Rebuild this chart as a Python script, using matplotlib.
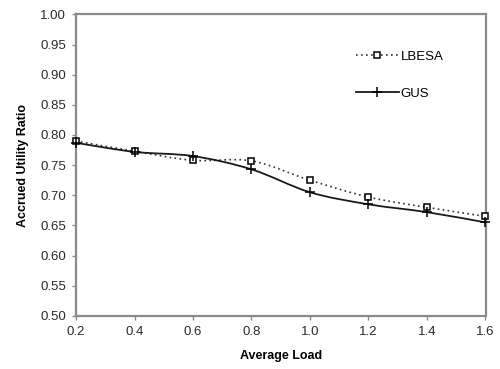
import numpy as np
import matplotlib.pyplot as plt
from matplotlib.path import Path
from matplotlib.patches import PathPatch
from matplotlib.lines import Line2D

plt.rcParams['font.family'] = ['Liberation Sans', 'DejaVu Sans']

load = [0.2, 0.4, 0.6, 0.8, 1.0, 1.2, 1.4, 1.6]
lbesa = [0.790, 0.773, 0.758, 0.757, 0.725, 0.697, 0.680, 0.665]
gus = [0.787, 0.772, 0.765, 0.743, 0.705, 0.685, 0.672, 0.655]


def smooth_path(x, y):
    # Bezier segments through every point (Catmull-Rom style tangents)
    pts = np.column_stack([x, y]).astype(float)
    n = len(pts)
    verts = [pts[0]]
    codes = [Path.MOVETO]
    for i in range(n - 1):
        p0 = pts[max(i - 1, 0)]
        p1 = pts[i]
        p2 = pts[i + 1]
        p3 = pts[min(i + 2, n - 1)]
        c1 = p1 + (p2 - p0) / 6.0
        c2 = p2 - (p3 - p1) / 6.0
        verts += [c1, c2, p2]
        codes += [Path.CURVE4] * 3
    return Path(verts, codes)


fig = plt.figure(figsize=(5.0, 3.69), dpi=100)
ax = fig.add_axes([0.152, 0.144, 0.819, 0.817])

styles = {
    'LBESA': dict(color='#333333', ls=(0, (1, 2)), lw=1.2, marker='s', ms=4.2,
                  mfc='white', mec='black', mew=1.1),
    'GUS': dict(color='#1a1a1a', ls='-', lw=1.3, marker='+', ms=6.5,
                mfc='black', mec='black', mew=1.1),
}

handles = []
for name, vals in [('LBESA', lbesa), ('GUS', gus)]:
    st = styles[name]
    ax.add_patch(PathPatch(smooth_path(load, vals), fill=False, edgecolor=st['color'],
                           linestyle=st['ls'], linewidth=st['lw'], zorder=2))
    ax.plot(load, vals, ls='none', marker=st['marker'], ms=st['ms'], mfc=st['mfc'],
            mec=st['mec'], mew=st['mew'], zorder=3, clip_on=False)
    handles.append(Line2D([], [], **st, label=name))

ax.set_xlim(0.2, 1.6)
ax.set_ylim(0.5, 1.0)
ax.set_xticks(np.arange(0.2, 1.61, 0.2))
ax.set_yticks(np.arange(0.5, 1.001, 0.05))
ax.xaxis.set_major_formatter(plt.FormatStrFormatter('%.1f'))
ax.yaxis.set_major_formatter(plt.FormatStrFormatter('%.2f'))

for sp in ax.spines.values():
    sp.set_color('#8a8a8a')
    sp.set_linewidth(1.6)
ax.tick_params(direction='out', length=3, width=1, color='#8a8a8a',
               labelsize=9.5, labelcolor='#2a2a2a', pad=4)

ax.set_xlabel('Average Load', fontsize=9, fontweight='bold', labelpad=9)
ax.set_ylabel('Accrued Utility Ratio', fontsize=9, fontweight='bold', labelpad=8)

ax.legend(handles=handles, loc='upper right', bbox_to_anchor=(0.91, 0.898),
          frameon=False, fontsize=9.5, handlelength=3.3, handletextpad=0.1,
          labelspacing=1.9, borderaxespad=0)

fig.savefig('out.png', dpi=100)
